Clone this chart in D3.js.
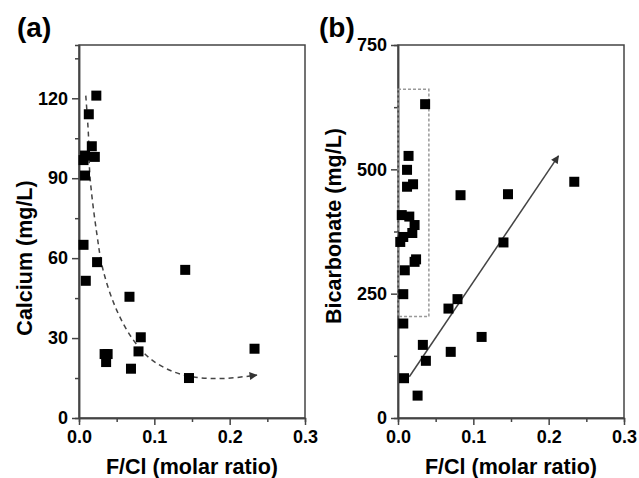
<!doctype html>
<html lang="en">
<head>
<meta charset="UTF-8">
<title>Calcium and bicarbonate vs F/Cl</title>
<style>
  body { margin: 0; background: #fff; }
  svg { display: block; font-family: "Liberation Sans", Arial, sans-serif; }
  .tick text { font-size: 18px; font-weight: bold; fill: #000; }
  .axis path, .axis line { stroke: #444; stroke-width: 1.5; }
</style>
</head>
<body>
<div id="chart"></div>
<script src="https://d3js.org/d3.v7.min.js"></script>
<script>
  // panel (a): calcium
  const calciumX = [0.023, 0.013, 0.017, 0.021, 0.008, 0.006, 0.008, 0.006, 0.024, 0.009,
    0.067, 0.141, 0.082, 0.079, 0.069, 0.034, 0.038, 0.036, 0.146, 0.233]
  const calciumY = [121, 114, 102, 98, 98.5, 96.8, 91, 65, 58.5, 51.5,
    45.5, 55.6, 30.3, 25, 18.5, 24, 24, 21, 15, 26]
  // hand-drawn dashed trend arrow
  const trendA = [[0.009, 121], [0.0124, 107], [0.0146, 90.6], [0.0235, 69.5], [0.032, 55.5],
    [0.05, 40.5], [0.072, 29.3], [0.094, 22.4], [0.125, 17.4], [0.161, 15.1], [0.196, 14.9], [0.236, 16.1]]

  // panel (b): bicarbonate
  const bicarbX = [0.036, 0.014, 0.012, 0.012, 0.020, 0.083, 0.146, 0.234, 0.005, 0.015,
    0.022, 0.019, 0.007, 0.003, 0.022, 0.024, 0.009, 0.007, 0.007, 0.008,
    0.026, 0.033, 0.037, 0.070, 0.067, 0.079, 0.111, 0.140]
  const bicarbY = [631, 527, 499, 465, 470, 448, 450, 475, 408, 405,
    388, 372, 364, 354, 314, 319, 297, 249, 190, 80,
    45, 147, 115, 133, 220, 239, 163, 353]
  const trendB = [[0.015, 83], [0.213, 527]]
  const boxB = [[0, 204], [0.041, 661]]

  const xTicks = [0, 0.1, 0.2, 0.3]
  const xMinor = [0.05, 0.15, 0.25]
  const calciumTicks = [0, 30, 60, 90, 120]
  const calciumMinor = [15, 45, 75, 105, 135]
  const bicarbTicks = [0, 250, 500, 750]
  const bicarbMinor = [125, 375, 625]

  const width = 639
  const height = 478
  const plotTop = 45
  const plotBottom = 418

  const svg = d3.select('#chart').append('svg')
    .attr('width', width)
    .attr('height', height)

  const defs = svg.append('defs')
  defs.append('marker')
    .attr('id', 'arrow')
    .attr('markerUnits', 'userSpaceOnUse')
    .attr('viewBox', '0 0 10 10')
    .attr('refX', 9).attr('refY', 5)
    .attr('markerWidth', 10).attr('markerHeight', 8)
    .attr('orient', 'auto')
    .append('path')
    .attr('d', 'M0,0 L10,5 L0,10 Z')
    .attr('fill', '#333')

  function panel (opts) {
    const x = d3.scaleLinear().domain([0, 0.3]).range([opts.left, opts.right])
    const y = d3.scaleLinear().domain(opts.yDomain).range([plotBottom, plotTop])
    const g = svg.append('g')

    // minor ticks first so major axis draws over
    g.append('g').attr('class', 'axis').attr('transform', `translate(0, ${plotBottom})`)
      .call(d3.axisBottom(x).tickValues(xMinor).tickSize(4).tickFormat(''))
    g.append('g').attr('class', 'axis').attr('transform', `translate(${opts.left}, 0)`)
      .call(d3.axisLeft(y).tickValues(opts.yMinor).tickSize(4).tickFormat(''))

    g.append('g').attr('class', 'axis').attr('transform', `translate(0, ${plotBottom})`)
      .call(d3.axisBottom(x).tickValues(xTicks).tickSize(7).tickSizeOuter(0).tickPadding(5)
        .tickFormat(d3.format('.1f')))
    g.append('g').attr('class', 'axis').attr('transform', `translate(${opts.left}, 0)`)
      .call(d3.axisLeft(y).tickValues(opts.yTicks).tickSize(7).tickSizeOuter(0).tickPadding(4))

    g.append('rect')
      .attr('x', opts.left).attr('y', plotTop)
      .attr('width', opts.right - opts.left).attr('height', plotBottom - plotTop)
      .attr('fill', 'none').attr('stroke', '#444').attr('stroke-width', 1.5)

    opts.extra(g, x, y)

    g.selectAll('rect.pt')
      .data(opts.xs)
      .enter()
      .append('rect')
      .attr('class', 'pt')
      .attr('x', d => x(d) - 5)
      .attr('y', (d, i) => y(opts.ys[i]) - 5)
      .attr('width', 10)
      .attr('height', 10)
      .attr('fill', '#000')

    g.append('text')
      .attr('x', (opts.left + opts.right) / 2)
      .attr('y', 474)
      .attr('text-anchor', 'middle')
      .style('font-size', '21.5px').style('font-weight', 'bold')
      .text('F/Cl (molar ratio)')

    g.append('text')
      .attr('transform', `translate(${opts.titleX}, ${opts.titleY}) rotate(-90)`)
      .attr('text-anchor', 'middle')
      .style('font-size', '21.5px').style('font-weight', 'bold')
      .text(opts.yTitle)

    g.append('text')
      .attr('x', opts.labelX).attr('y', 37)
      .style('font-size', '28px').style('font-weight', 'bold')
      .text(opts.label)
  }

  panel({
    left: 79, right: 305,
    yDomain: [0, 140], yTicks: calciumTicks, yMinor: calciumMinor,
    xs: calciumX, ys: calciumY,
    yTitle: 'Calcium (mg/L)', titleX: 32, titleY: 258,
    label: '(a)', labelX: 17,
    extra: (g, x, y) => {
      g.append('path')
        .datum(trendA)
        .attr('d', d3.line().x(d => x(d[0])).y(d => y(d[1])).curve(d3.curveCatmullRom))
        .attr('fill', 'none')
        .attr('stroke', '#444')
        .attr('stroke-width', 1.5)
        .attr('stroke-dasharray', '5,4')
        .attr('marker-end', 'url(#arrow)')
    }
  })

  panel({
    left: 398, right: 624,
    yDomain: [0, 750], yTicks: bicarbTicks, yMinor: bicarbMinor,
    xs: bicarbX, ys: bicarbY,
    yTitle: 'Bicarbonate (mg/L)', titleX: 341, titleY: 226,
    label: '(b)', labelX: 319,
    extra: (g, x, y) => {
      g.append('rect')
        .attr('x', x(boxB[0][0])).attr('y', y(boxB[1][1]))
        .attr('width', x(boxB[1][0]) - x(boxB[0][0]))
        .attr('height', y(boxB[0][1]) - y(boxB[1][1]))
        .attr('fill', 'none')
        .attr('stroke', '#999')
        .attr('stroke-width', 1.5)
        .attr('stroke-dasharray', '3,2')
      g.append('line')
        .attr('x1', x(trendB[0][0])).attr('y1', y(trendB[0][1]))
        .attr('x2', x(trendB[1][0])).attr('y2', y(trendB[1][1]))
        .attr('stroke', '#444')
        .attr('stroke-width', 1.5)
        .attr('marker-end', 'url(#arrow)')
    }
  })
</script>
</body>
</html>
